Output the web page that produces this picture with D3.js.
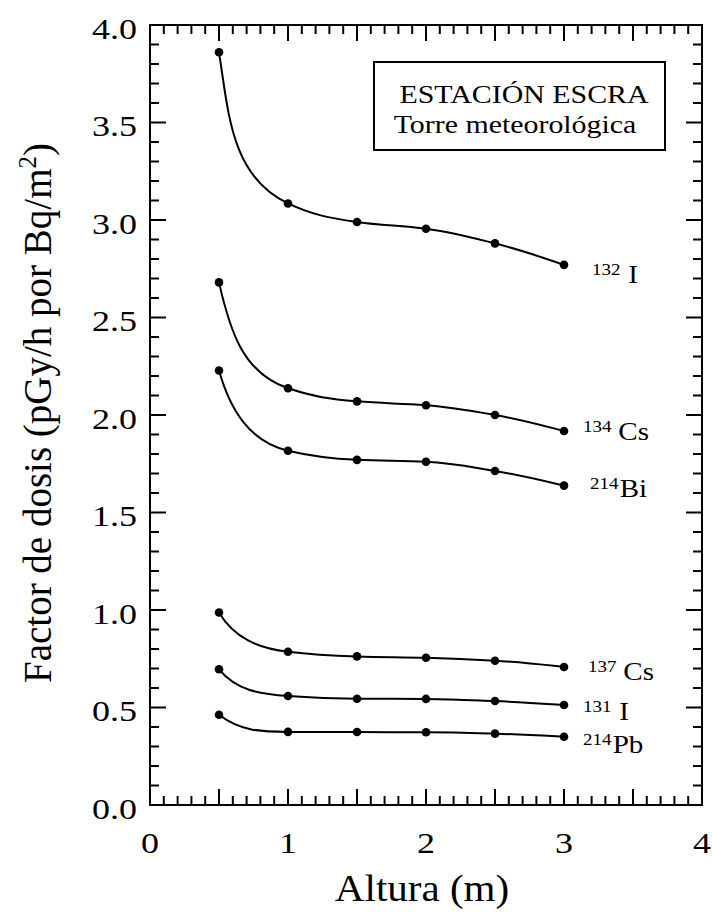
<!DOCTYPE html>
<html>
<head>
<meta charset="utf-8">
<script src="https://cdn.jsdelivr.net/npm/d3@7"></script>
<style>
  body { margin: 0; background: #fff; }
</style>
</head>
<body>
<div id="chart"></div>
<script>
// heights (m) where the dose factor was computed
var heights = [0.5, 1, 1.5, 2, 2.5, 3];

// dose factor (pGy/h por Bq/m2) for each isotope
var i132  = [3.86, 3.085, 2.99, 2.955, 2.88, 2.77];
var cs134 = [2.68, 2.137, 2.07, 2.05, 2.00, 1.918];
var bi214 = [2.228, 1.817, 1.77, 1.76, 1.713, 1.638];
var cs137 = [0.987, 0.786, 0.762, 0.755, 0.74, 0.708];
var i131  = [0.696, 0.559, 0.545, 0.544, 0.533, 0.513];
var pb214 = [0.463, 0.375, 0.374, 0.373, 0.366, 0.35];

var massNumbers = ["132", "134", "214", "137", "131", "214"];
var elements = ["I", "Cs", "Bi", "Cs", "I", "Pb"];
var series = [i132, cs134, bi214, cs137, i131, pb214];

var xTicks = [0, 1, 2, 3, 4];
var yTicks = [0, 0.5, 1, 1.5, 2, 2.5, 3, 3.5, 4];

// label placement next to the last point (layout only)
var labelDx = [28, 19, 26, 24, 19, 19];
var labelDy = [18, 9, 11, 13, 15, 16];
var labelGap = [7, 6, 1, 6, 7, 1];

var W = 712, H = 912;
var margin = {top: 25, left: 150},
    width = 702 - margin.left,
    height = 805 - margin.top;

var svg = d3.select("#chart").append("svg")
    .attr("width", W)
    .attr("height", H)
    .attr("font-family", "'Liberation Serif', 'Times New Roman', serif");

var g = svg.append("g")
    .attr("transform", "translate(" + margin.left + "," + margin.top + ")");

var x = d3.scaleLinear().domain([0, 4]).range([0, width]);
var y = d3.scaleLinear().domain([0, 4]).range([height, 0]);

// text in the original is a bit wider than Times, so stretch it a little
function wideText(sel, px, py, sx) {
  return sel.append("text")
      .attr("transform", "translate(" + px + "," + py + ") scale(" + sx + ",1)");
}

// smooth curve: bends sharply near the first point like the original fit
function curveDecay(context) {
  var pts;
  return {
    areaStart: function() {},
    areaEnd: function() {},
    lineStart: function() { pts = []; },
    point: function(px, py) { pts.push([+px, +py]); },
    lineEnd: function() {
      var n = pts.length, i;
      if (!n) return;
      context.moveTo(pts[0][0], pts[0][1]);
      if (n < 3) { if (n === 2) context.lineTo(pts[1][0], pts[1][1]); return; }
      var s = [], m = [];
      for (i = 0; i < n - 1; i++) s.push((pts[i + 1][1] - pts[i][1]) / (pts[i + 1][0] - pts[i][0]));
      for (i = 1; i < n - 1; i++) m[i] = s[i - 1] * s[i] > 0 ? 2 * s[i - 1] * s[i] / (s[i - 1] + s[i]) : 0;
      var r = (m[1] !== 0 && s[0] * m[1] > 0) ? Math.min(s[0] / m[1], 5) : 3;
      m[0] = s[0] * Math.pow(r, 0.7);
      var e = (3 * s[n - 2] - m[n - 2]) / 2;
      if (e * s[n - 2] <= 0) e = 0;
      m[n - 1] = e;
      for (i = 0; i < n - 1; i++) {
        var p0 = pts[i], p1 = pts[i + 1];
        var L = Math.hypot(p1[0] - p0[0], p1[1] - p0[1]) * 0.38;
        var n0 = Math.hypot(1, m[i]), n1 = Math.hypot(1, m[i + 1]);
        context.bezierCurveTo(
          p0[0] + L / n0, p0[1] + L * m[i] / n0,
          p1[0] - L / n1, p1[1] - L * m[i + 1] / n1,
          p1[0], p1[1]);
      }
    }
  };
}

// ticks pointing inward on all four sides
var minor = d3.range(0, 41).map(function(d) { return d / 10; });
function tickLen(v) { return (Math.round(v * 10) % 5 === 0) ? 16 : 9; }

g.selectAll(".xb").data(minor).enter().append("line")
    .attr("x1", function(d) { return x(d); })
    .attr("x2", function(d) { return x(d); })
    .attr("y1", height)
    .attr("y2", function(d) { return height - tickLen(d); })
    .attr("stroke", "#000").attr("stroke-width", 2);
g.selectAll(".xt").data(minor).enter().append("line")
    .attr("x1", function(d) { return x(d); })
    .attr("x2", function(d) { return x(d); })
    .attr("y1", 0)
    .attr("y2", function(d) { return tickLen(d); })
    .attr("stroke", "#000").attr("stroke-width", 2);
g.selectAll(".yl").data(minor).enter().append("line")
    .attr("y1", function(d) { return y(d); })
    .attr("y2", function(d) { return y(d); })
    .attr("x1", 0)
    .attr("x2", function(d) { return tickLen(d); })
    .attr("stroke", "#000").attr("stroke-width", 2);
g.selectAll(".yr").data(minor).enter().append("line")
    .attr("y1", function(d) { return y(d); })
    .attr("y2", function(d) { return y(d); })
    .attr("x1", width)
    .attr("x2", function(d) { return width - tickLen(d); })
    .attr("stroke", "#000").attr("stroke-width", 2);

// frame
g.append("rect")
    .attr("width", width).attr("height", height)
    .attr("fill", "none").attr("stroke", "#000").attr("stroke-width", 2);

// tick labels
xTicks.forEach(function(d) {
  wideText(g, x(d), height + 48, 1.2)
      .attr("text-anchor", "middle")
      .style("font-size", "30px")
      .text(d);
});
yTicks.forEach(function(d) {
  wideText(g, -13, y(d) + 13.5, 1.2)
      .attr("text-anchor", "end")
      .style("font-size", "30px")
      .text(d3.format(".1f")(d));
});

// axis titles
wideText(svg, 422, 901, 1.08)
    .attr("text-anchor", "middle")
    .style("font-size", "38px")
    .text("Altura (m)");

var yt = svg.append("text")
    .attr("transform", "translate(51,413) rotate(-90)")
    .attr("text-anchor", "middle")
    .style("font-size", "39px");
yt.append("tspan").text("Factor de dosis (pGy/h por Bq/m");
yt.append("tspan").attr("dy", -15).style("font-size", "25px").text("2");
yt.append("tspan").attr("dy", 15).text(")");

// curves and points
var line = d3.line()
    .x(function(d, i) { return x(heights[i]); })
    .y(function(d) { return y(d); })
    .curve(curveDecay);

series.forEach(function(s, k) {
  g.append("path")
      .attr("d", line(s))
      .attr("fill", "none")
      .attr("stroke", "#000")
      .attr("stroke-width", 2);
  g.selectAll(".dot" + k).data(s).enter().append("circle")
      .attr("cx", function(d, i) { return x(heights[i]); })
      .attr("cy", function(d) { return y(d); })
      .attr("r", 4.3)
      .attr("fill", "#000");

  var last = s[s.length - 1];
  var t = wideText(g, x(heights[heights.length - 1]) + labelDx[k], y(last) + labelDy[k], 1.12)
      .style("font-size", "26px");
  t.append("tspan").attr("dy", -8).style("font-size", "17px").text(massNumbers[k]);
  t.append("tspan").attr("dy", 8).attr("dx", labelGap[k]).text(elements[k]);
});

// station box
g.append("rect")
    .attr("x", 224).attr("y", 37)
    .attr("width", 291).attr("height", 88)
    .attr("fill", "#fff").attr("stroke", "#000").attr("stroke-width", 2);
wideText(g, 224 + 150, 78, 1.15)
    .attr("text-anchor", "middle")
    .style("font-size", "26px")
    .text("ESTACIÓN ESCRA");
wideText(g, 224 + 141, 108, 1.15)
    .attr("text-anchor", "middle")
    .style("font-size", "26px")
    .text("Torre meteorológica");
</script>
</body>
</html>
